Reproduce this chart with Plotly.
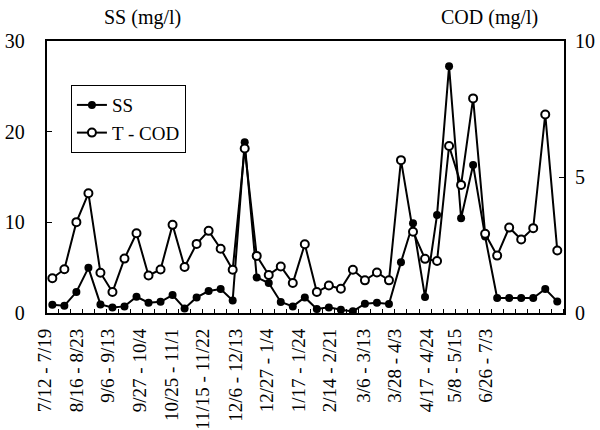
import plotly.graph_objects as go

# Weekly sampling periods (index 0..42) and the measured concentrations
ss_values = [0.91, 0.80, 2.31, 4.98, 0.95, 0.62, 0.73, 1.79, 1.13, 1.24,
             1.98, 0.51, 1.72, 2.42, 2.64, 1.39, 18.82, 3.92, 3.30, 1.21,
             0.73, 1.72, 0.44, 0.62, 0.36, 0.18, 1.02, 1.13, 0.99, 5.61,
             9.90, 1.76, 10.82, 27.21, 10.45, 16.32, 8.43, 1.65, 1.65, 1.65,
             1.65, 2.64, 1.28]
tcod_values = [1.28, 1.61, 3.34, 4.40, 1.48, 0.77, 2.00, 2.93, 1.38, 1.60,
               3.24, 1.69, 2.54, 3.02, 2.36, 1.59, 6.05, 2.10, 1.40, 1.71,
               1.10, 2.53, 0.77, 1.01, 0.89, 1.59, 1.20, 1.49, 1.20, 5.62,
               2.99, 1.99, 1.91, 6.14, 4.71, 7.89, 2.91, 2.11, 3.14, 2.70,
               3.12, 7.30, 2.30]
periods = list(range(len(ss_values)))

period_labels = ["7/12 - 7/19", "8/16 - 8/23", "9/6 - 9/13", "9/27 - 10/4",
                 "10/25 - 11/1", "11/15 - 11/22", "12/6 - 12/13",
                 "12/27 - 1/4", "1/17 - 1/24", "2/14 - 2/21", "3/6 - 3/13",
                 "3/28 - 4/3", "4/17 - 4/24", "5/8 - 5/15", "6/26 - 7/3"]
label_positions = [-0.61, 2.0, 4.59, 7.26, 9.96, 12.52, 15.24, 17.86,
                   20.47, 23.1, 25.87, 28.47, 31.13, 33.48, 36.02]

ss_ticks = [0, 10, 20, 30]
cod_ticks = [0, 5, 10]

SERIF = "Liberation Serif, DejaVu Serif, serif"

# Pixel geometry of the frame: the label axis spans a little further left
# than the data axis so the first period label can sit left of the frame.
FIG_W, M_L, M_R = 600, 40, 36
PLOT_W = FIG_W - M_L - M_R
FRAME_LEFT = 6.7                      # px from label-axis start to frame
X_RANGE = [-0.47, 42.56]
PX_PER_UNIT = (PLOT_W - FRAME_LEFT) / (X_RANGE[1] - X_RANGE[0])
LABEL_RANGE = [X_RANGE[0] - FRAME_LEFT / PX_PER_UNIT, X_RANGE[1]]

fig = go.Figure()
fig.add_trace(go.Scatter(
    x=periods, y=ss_values, name="SS", mode="lines+markers",
    line=dict(color="black", width=2),
    marker=dict(symbol="circle", size=8, color="black"),
    legendrank=1, xaxis="x", yaxis="y"))
fig.add_trace(go.Scatter(
    x=periods, y=tcod_values, name="T - COD", mode="lines+markers",
    line=dict(color="black", width=2),
    marker=dict(symbol="circle", size=8, color="white",
                line=dict(color="black", width=2)),
    legendrank=2, xaxis="x", yaxis="y2"))
# empty trace that brings the label axis into a subplot
fig.add_trace(go.Scatter(x=[], y=[], xaxis="x2", yaxis="y",
                         showlegend=False, hoverinfo="skip"))

fig.update_layout(
    width=FIG_W, height=430,
    margin=dict(l=M_L, r=M_R, t=41, b=117),
    paper_bgcolor="white", plot_bgcolor="rgba(0,0,0,0)",
    font=dict(family=SERIF, size=18, color="black"),
    showlegend=True,
    legend=dict(x=0.059, y=0.838, xanchor="left", yanchor="top",
                bordercolor="black", borderwidth=1, bgcolor="white",
                font=dict(family=SERIF, size=19), tracegroupgap=0,
                itemwidth=30),
    xaxis=dict(domain=[FRAME_LEFT / PLOT_W, 1], range=X_RANGE,
               automargin=False,
               showticklabels=False, ticks="", showgrid=False,
               zeroline=False, showline=True, linecolor="black",
               linewidth=2, mirror=True,
               minor=dict(tickmode="array",
                          tickvals=[i - 0.5 for i in range(len(periods) + 1)],
                          ticks="inside", ticklen=4, tickwidth=1,
                          tickcolor="black", showgrid=False)),
    xaxis2=dict(domain=[0, 1], range=LABEL_RANGE, anchor="y", side="bottom",
                automargin=False,
                tickmode="array", tickvals=label_positions,
                ticktext=period_labels, tickangle=-90, ticks="",
                showgrid=False, zeroline=False, showline=False,
                tickfont=dict(family=SERIF, size=19),
                ticklabelstandoff=11),
    yaxis=dict(range=[0, 30], tickmode="array", tickvals=ss_ticks,
               automargin=False, ticks="inside",
               ticklen=5, tickwidth=1, tickcolor="black", showgrid=False,
               zeroline=False, showline=True, linecolor="black", linewidth=2,
               mirror=True, anchor="x", tickfont=dict(family=SERIF, size=20),
               ticklabelstandoff=16),
    yaxis2=dict(range=[0, 10], tickmode="array", tickvals=cod_ticks,
                automargin=False,
                overlaying="y", side="right", anchor="x", ticks="inside",
                ticklen=5, tickwidth=1, tickcolor="black", showgrid=False,
                zeroline=False, showline=True, linecolor="black",
                linewidth=2, tickfont=dict(family=SERIF, size=20),
                ticklabelstandoff=5),
    annotations=[
        dict(text="SS (mg/l)", xref="paper", yref="paper", x=0.195, y=1.085,
             xanchor="center", yanchor="middle", showarrow=False,
             font=dict(family=SERIF, size=20)),
        dict(text="COD (mg/l)", xref="paper", yref="paper", x=0.858, y=1.085,
             xanchor="center", yanchor="middle", showarrow=False,
             font=dict(family=SERIF, size=20)),
    ],
)

fig.write_html("out.html")
